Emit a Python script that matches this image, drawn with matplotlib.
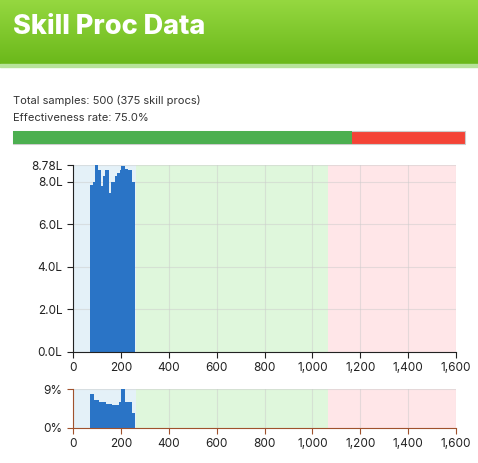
import matplotlib
matplotlib.use("Agg")
import matplotlib.pyplot as plt
from matplotlib.patches import Rectangle
from matplotlib.ticker import FuncFormatter
from matplotlib.colors import LinearSegmentedColormap
import numpy as np

plt.rcParams['font.family'] = ['Inter', 'DejaVu Sans']

title = "Skill Proc Data"
info1 = "Total samples: 500 (375 skill procs)"
info2 = "Effectiveness rate: 75.0%"
effectiveness = 0.75

bin_left = [73, 85, 93, 106, 116, 125, 133, 149, 160, 174, 182, 195, 201, 218, 231, 248]
bin_right = [85, 93, 106, 116, 125, 133, 149, 160, 174, 182, 195, 201, 218, 231, 248, 257]
top_vals = [7.83, 7.98, 8.78, 8.55, 7.78, 8.25, 8.53, 7.47, 8.0, 8.25, 8.4, 8.55, 8.72, 8.6, 8.53, 8.0]
pct_left = [73, 89, 110, 137, 164, 192, 202, 219, 235, 248]
pct_right = [89, 110, 137, 164, 192, 202, 219, 235, 248, 257]
pct_vals = [7.8, 6.5, 6.1, 5.5, 5.3, 6.1, 9.0, 6.1, 6.1, 3.5]

zones = [(0, 265, '#e4f1f8'), (265, 1065, '#dff7dc'), (1065, 1600, '#ffe6e8')]
xticks = list(range(0, 1601, 200))
top_yticks = [0, 2, 4, 6, 8, 8.78]

W, H = 478, 463
fig = plt.figure(figsize=(W/100, H/100), dpi=100)

hdr = fig.add_axes([0, 1-64/H, 1, 64/H])
grad = np.linspace(0, 1, 100).reshape(-1, 1)
cm = LinearSegmentedColormap.from_list('g', ['#95d840', '#6bb81a'])
hdr.imshow(grad, aspect='auto', cmap=cm, extent=[0, 1, 0, 1])
hdr.axis('off')
hdr.text(0.027, 0.58, title, color='white', fontsize=19.5, fontweight='heavy', va='center', transform=hdr.transAxes)
fig.add_artist(Rectangle((0, 1-67/H), 1, 3/H, transform=fig.transFigure, color='#b7e39a'))

fig.text(13/W, 1-100/H, info1, fontsize=8, color='#333333', va='center')
fig.text(13/W, 1-118/H, info2, fontsize=8, color='#333333', va='center')
bx0, bx1, by0, by1 = 13/W, 465/W, 1-144/H, 1-131/H
fig.add_artist(Rectangle((bx0, by0), bx1-bx0, by1-by0, transform=fig.transFigure, facecolor='#f44336', edgecolor='#cccccc', lw=0.8))
fig.add_artist(Rectangle((bx0, by0), (bx1-bx0)*effectiveness, by1-by0, transform=fig.transFigure, facecolor='#4caf50', edgecolor='none'))

def style(ax, color):
    for s in ['top', 'right']:
        ax.spines[s].set_visible(False)
    for s in ['left', 'bottom']:
        ax.spines[s].set_color(color)
    ax.tick_params(colors=color, labelcolor='#222222', labelsize=8.5, length=4)
    ax.set_xlim(0, 1600)
    ax.set_xticks(xticks)
    ax.xaxis.set_major_formatter(FuncFormatter(lambda v, p: f"{int(v):,}"))
    ax.grid(True, color='#cccccc', alpha=0.5, lw=0.8)
    ax.set_axisbelow(True)
    for a, b, c in zones:
        ax.axvspan(a, b, color=c, zorder=0, lw=0)

ax1 = fig.add_axes([73/W, 1-352/H, 383/W, 187/H])
style(ax1, '#222222')
ax1.bar(bin_left, top_vals, width=np.array(bin_right)-np.array(bin_left), align='edge', color='#2a74c6', zorder=2)
ax1.set_ylim(0, 8.78)
ax1.set_yticks(top_yticks)
ax1.set_yticklabels(["0.0L", "2.0L", "4.0L", "6.0L", "8.0L", "8.78L"])

ax2 = fig.add_axes([73/W, 1-428/H, 383/W, 39/H])
style(ax2, '#a0522d')
ax2.bar(pct_left, pct_vals, width=np.array(pct_right)-np.array(pct_left), align='edge', color='#2a74c6', zorder=2)
ax2.set_ylim(0, 9)
ax2.set_yticks([0, 9])
ax2.set_yticklabels(["0%", "9%"])

fig.savefig("out.png", dpi=100)
